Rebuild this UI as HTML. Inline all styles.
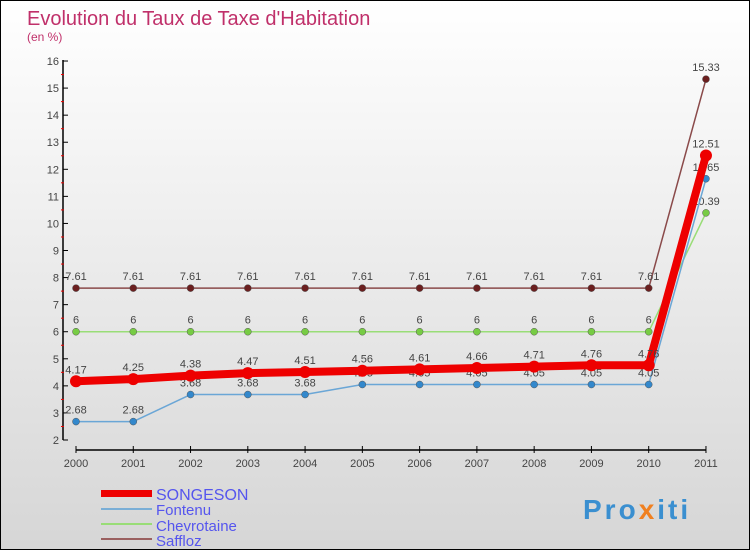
<!DOCTYPE html>
<html><head><meta charset="utf-8"><style>
body{margin:0;width:750px;height:550px;overflow:hidden;font-family:"Liberation Sans",sans-serif}
#c{position:relative;width:748px;height:548px;border:1px solid #000;background:linear-gradient(#fff,#d6d6d6)}
</style></head><body>
<div id="c">
<svg id="s" width="748" height="548" style="position:absolute;left:0;top:0">
<text x="26" y="24" font-size="20" fill="#c0306a">Evolution du Taux de Taxe d'Habitation</text>
<text x="26" y="40" font-size="12" fill="#c0306a">(en %)</text>
<g id="g"></g>
<g>
<rect x="100" y="489" width="51" height="7" fill="#e00"/>
<text x="155" y="499" font-size="16" fill="#5555ee">SONGESON</text>
<line x1="100" y1="508" x2="151" y2="508" stroke="#7aaed6" stroke-width="2"/>
<text x="155" y="514" font-size="15" fill="#5555ee">Fontenu</text>
<line x1="100" y1="523" x2="151" y2="523" stroke="#99dd77" stroke-width="2"/>
<text x="155" y="530" font-size="15" fill="#5555ee">Chevrotaine</text>
<line x1="100" y1="538" x2="151" y2="538" stroke="#9a6060" stroke-width="2"/>
<text x="155" y="545" font-size="15" fill="#5555ee">Saffloz</text>
</g>
<text x="582" y="518" font-size="28" font-weight="bold" letter-spacing="3"><tspan fill="#3a8fd0">Pro</tspan><tspan fill="#f08020">x</tspan><tspan fill="#3a8fd0">iti</tspan></text>
</svg>
</div>
<script>
const years=["2000","2001","2002","2003","2004","2005","2006","2007","2008","2009","2010","2011"];
const yTicks=[2,3,4,5,6,7,8,9,10,11,12,13,14,15,16];
const songeson=[4.17,4.25,4.38,4.47,4.51,4.56,4.61,4.66,4.71,4.76,4.76,12.51];
const fontenu=[2.68,2.68,3.68,3.68,3.68,4.05,4.05,4.05,4.05,4.05,4.05,11.65];
const chevrotaine=[6,6,6,6,6,6,6,6,6,6,6,10.39];
const saffloz=[7.61,7.61,7.61,7.61,7.61,7.61,7.61,7.61,7.61,7.61,7.61,15.33];
const NS="http://www.w3.org/2000/svg",g=document.getElementById('g');
const X=i=>75+i*57.27, Y=v=>439-(v-2)*27.07;
function el(t,a,p){const e=document.createElementNS(NS,t);for(const k in a)e.setAttribute(k,a[k]);(p||g).appendChild(e);return e;}
let ax=el('line',{x1:62,y1:59,x2:62,y2:439,stroke:'#000','stroke-width':1.5});


let bx=el('line',{x1:75,y1:449,x2:705,y2:449,stroke:'#000','stroke-width':1.5});


yTicks.forEach(v=>{el('line',{x1:62,y1:Y(v),x2:67,y2:Y(v),stroke:'#000'});
 if(v<16)el('line',{x1:60,y1:Y(v+.5),x2:63,y2:Y(v+.5),stroke:'#e00'});
 const t=el('text',{x:58,y:Y(v)+4,'font-size':11,fill:'#444','text-anchor':'end'});t.textContent=v;
 
 });
years.forEach((y,i)=>{el('line',{x1:X(i),y1:445,x2:X(i),y2:452,stroke:'#000'});
 const t=el('text',{x:X(i),y:466,'font-size':11,fill:'#444','text-anchor':'middle'});t.textContent=y;
 
 });
function series(d,name,col,w,r,dot){
 const p=el('polyline',{points:d.map((v,i)=>X(i)+','+Y(v)).join(' '),fill:'none',stroke:col,'stroke-width':w,'stroke-linejoin':'round'});
 
 
 d.forEach((v,i)=>{const c=el('circle',{cx:X(i),cy:Y(v),r:r,fill:dot,stroke:w>3?'none':'#555','stroke-width':.5});
  
  
  const t=el('text',{x:X(i),y:Y(v)-8,'font-size':11,fill:'#444','text-anchor':'middle'});t.textContent=v;
  
  });
}
series(saffloz,'saffloz','#8a4a4a',1.5,3.5,'#6b1f1f');
series(chevrotaine,'chevrotaine','#99dd77',1.5,3.5,'#77cc44');
series(fontenu,'fontenu','#6aa6d6',1.5,3.5,'#3388cc');
series(songeson,'songeson','#e00',8,6,'#e00');
</script>
</body></html>
